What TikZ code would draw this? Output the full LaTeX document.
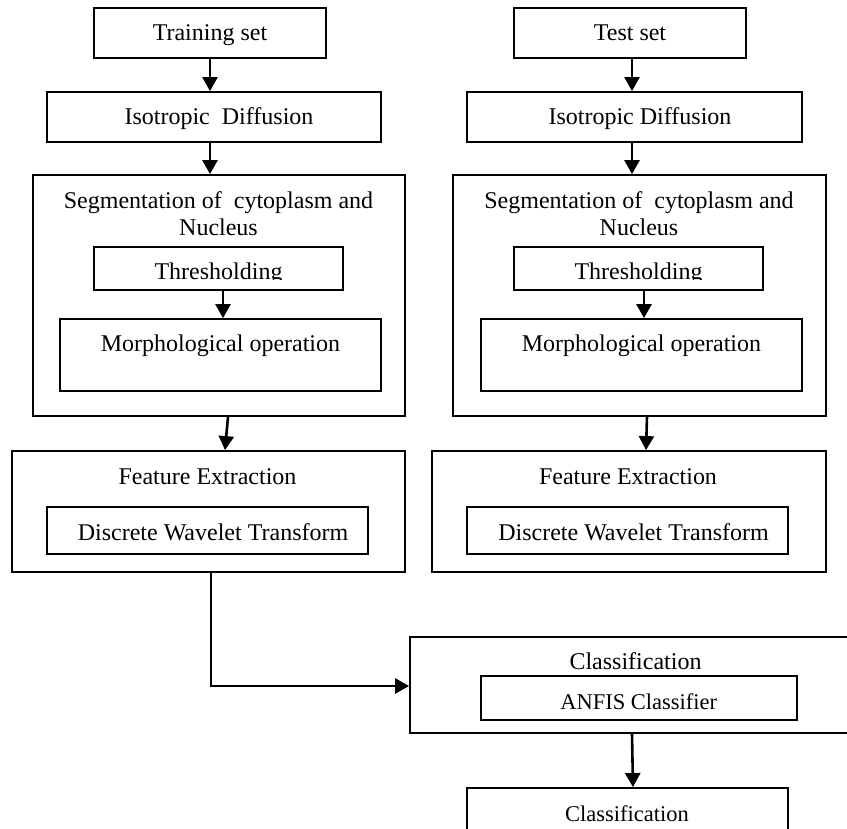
\documentclass[tikz,border=0pt]{standalone}
\usepackage{fontspec}
\setmainfont{Liberation Serif}
\usetikzlibrary{arrows.meta}
\tikzset{
  box/.style={draw, line width=1.8pt, inner sep=0pt, minimum width=#1},
  lbl/.style={anchor=base, inner sep=0pt, font=\fontsize{24}{28}\selectfont},
  lbls/.style={anchor=base, inner sep=0pt, font=\fontsize{22.5}{27}\selectfont},
  arr/.style={line width=2.6pt, -{Triangle[width=15pt,length=14pt]}},
  con/.style={line width=2.6pt}
}
\begin{document}
\begin{tikzpicture}[x=1pt,y=-1pt]
\path[use as bounding box, clip] (0,0) rectangle (847,829);
\fill[white] (0,0) rectangle (847,829);

% ---------- left column ----------
\node[box=232pt, minimum height=50pt] (train) at (210,33) {};
\node[lbl] (traint) at (210,41) {Training set};
\node[box=334pt, minimum height=50pt] (iso) at (214,117) {};
\node[lbl] (isot) at (219,125) {Isotropic\ \ Diffusion};
\node[box=372pt, minimum height=241pt] (seg) at (219,295.5) {};
\node[lbl] (segt1) at (218.5,209) {Segmentation of\ \ cytoplasm and};
\node[lbl] (segt2) at (218.5,236) {Nucleus};
\node[box=249pt, minimum height=43pt] (thr) at (218.5,268.5) {};
\begin{scope}
  \clip (thr.north west) rectangle ([yshift=11.5pt]thr.south east);
  \node[lbl] (thrt) at (218.5,279.5) {Thresholding};
\end{scope}
\node[box=321pt, minimum height=72pt] (mor) at (220.5,355) {};
\node[lbl] (mort) at (220.5,352) {Morphological operation};
\node[box=393pt, minimum height=121pt] (fe) at (208.5,511.5) {};
\node[lbl] (fet) at (207.5,484) {Feature Extraction};
\node[box=321pt, minimum height=47pt] (dwt) at (207.5,530.5) {};
\node[lbl] (dwtt) at (213,540) {Discrete Wavelet Transform};

% ---------- right column ----------
\node[box=232pt, minimum height=50pt] (test) at (630,33) {};
\node[lbl] (testt) at (630,41) {Test set};
\node[box=335pt, minimum height=50pt] (iso2) at (634.5,117) {};
\node[lbl] (iso2t) at (640,125) {Isotropic Diffusion};
\node[box=373pt, minimum height=241pt] (seg2) at (639.5,295.5) {};
\node[lbl] (seg2t1) at (639,209) {Segmentation of\ \ cytoplasm and};
\node[lbl] (seg2t2) at (639,236) {Nucleus};
\node[box=249pt, minimum height=43pt] (thr2) at (638.5,268.5) {};
\begin{scope}
  \clip (thr2.north west) rectangle ([yshift=11.5pt]thr2.south east);
  \node[lbl] (thr2t) at (638.5,279.5) {Thresholding};
\end{scope}
\node[box=321pt, minimum height=72pt] (mor2) at (641.5,355) {};
\node[lbl] (mor2t) at (641.5,352) {Morphological operation};
\node[box=394pt, minimum height=121pt] (fe2) at (629,511.5) {};
\node[lbl] (fe2t) at (628,484) {Feature Extraction};
\node[box=321pt, minimum height=47pt] (dwt2) at (627.5,530.5) {};
\node[lbl] (dwt2t) at (633.5,540) {Discrete Wavelet Transform};

% ---------- bottom ----------
\node[box=440pt, minimum height=96pt] (cls) at (630,685) {};
\node[lbl] (clst) at (635.5,669) {Classification};
\node[box=316pt, minimum height=44pt] (anfis) at (639,698) {};
\node[lbls] (anfist) at (638.7,709) {ANFIS Classifier};
\node[box=321pt, minimum height=50pt] (out) at (627.5,813) {};
\node[lbls] (outt) at (627,821.5) {Classification};

% ---------- connectors ----------
\draw[arr] (train.south) -- (train.south |- iso.north);
\draw[arr] (train.south |- iso.south) -- (train.south |- seg.north);
\draw[arr] ([xshift=4.5pt]thr.south) -- ([xshift=2.5pt]mor.north);
\draw[arr] ([xshift=9pt]seg.south) -- ([xshift=16.5pt]fe.north);

\draw[arr] ([xshift=2pt]test.south) -- ([xshift=-2.5pt]iso2.north);
\draw[arr] ([xshift=-2.5pt]iso2.south) -- ([xshift=-7.5pt]seg2.north);
\draw[arr] ([xshift=5.5pt]thr2.south) -- ([xshift=2.5pt]mor2.north);
\draw[arr] ([xshift=7.5pt]seg2.south) -- ([xshift=17pt]fe2.north);

\draw[arr] ([xshift=2.5pt]fe.south) |- ([yshift=-1pt]cls.west);
\draw[arr] ([xshift=2pt]cls.south) -- ([xshift=5.5pt]out.north);
\end{tikzpicture}
\end{document}
